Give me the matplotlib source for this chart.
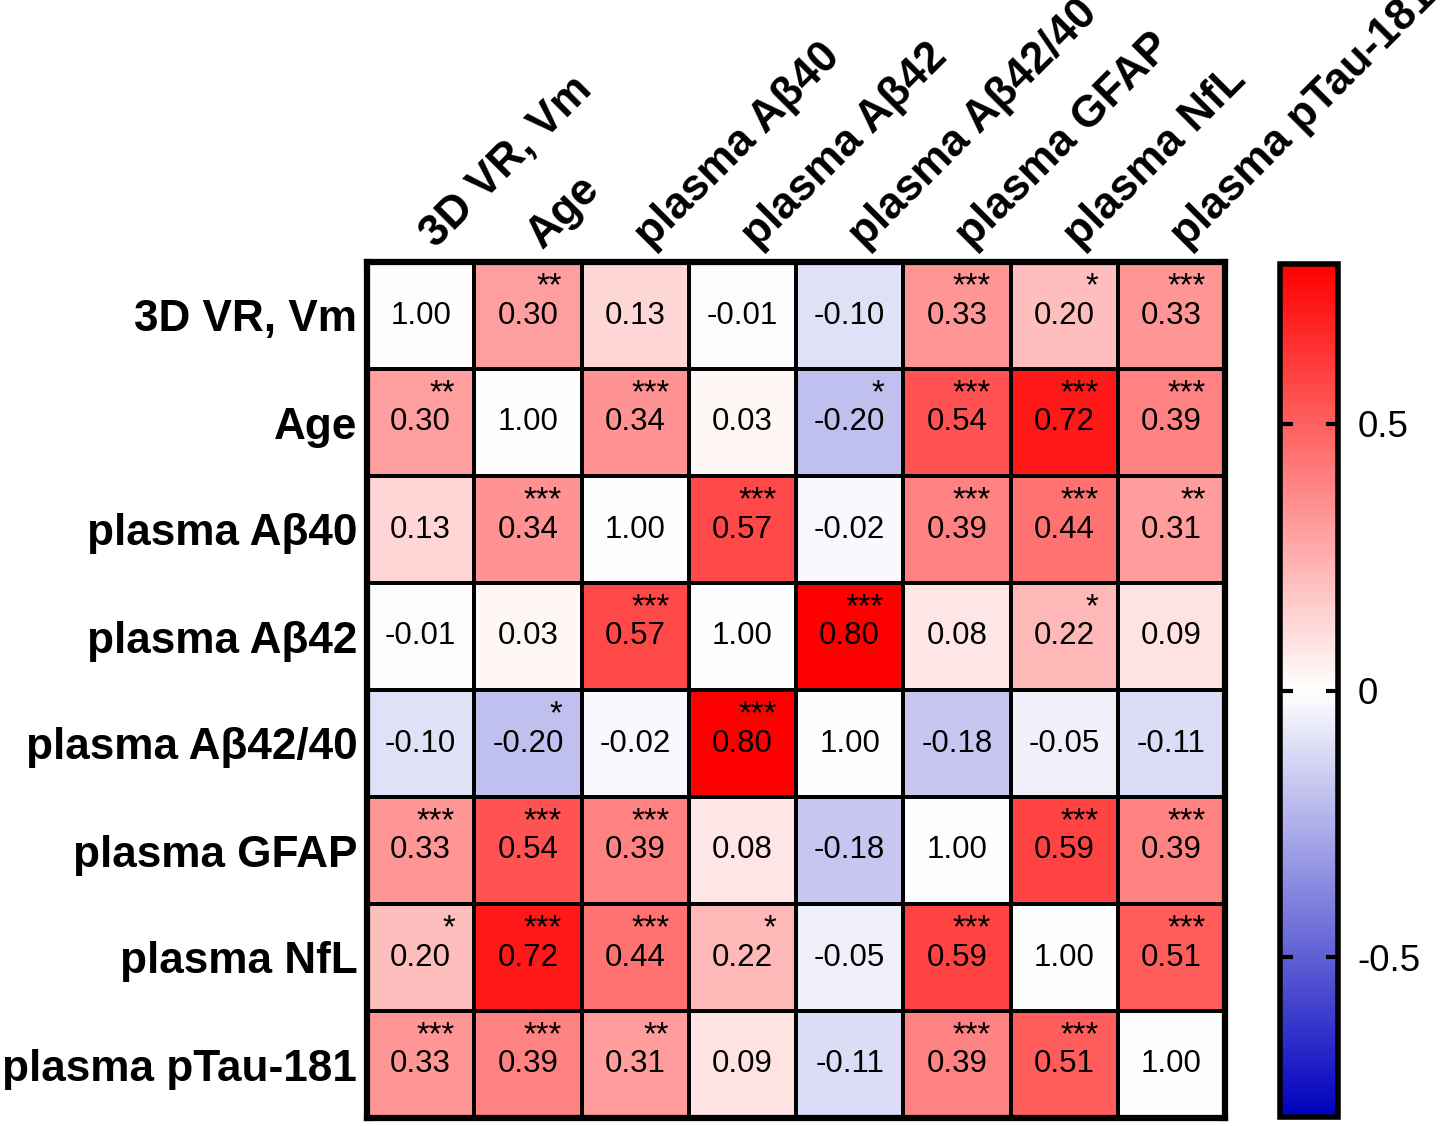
import numpy as np
import matplotlib.pyplot as plt
from matplotlib.colors import LinearSegmentedColormap

plt.rcParams['font.family'] = ['Liberation Sans', 'DejaVu Sans']
plt.rcParams['axes.unicode_minus'] = False

# variable names (rows top to bottom, columns left to right)
labels = ['3D VR, Vm', 'Age', 'plasma A\u03b240', 'plasma A\u03b242',
          'plasma A\u03b242/40', 'plasma GFAP', 'plasma NfL', 'plasma pTau-181']

# correlation coefficients
r_values = [
    [1.00, 0.30, 0.13, -0.01, -0.10, 0.33, 0.20, 0.33],
    [0.30, 1.00, 0.34, 0.03, -0.20, 0.54, 0.72, 0.39],
    [0.13, 0.34, 1.00, 0.57, -0.02, 0.39, 0.44, 0.31],
    [-0.01, 0.03, 0.57, 1.00, 0.80, 0.08, 0.22, 0.09],
    [-0.10, -0.20, -0.02, 0.80, 1.00, -0.18, -0.05, -0.11],
    [0.33, 0.54, 0.39, 0.08, -0.18, 1.00, 0.59, 0.39],
    [0.20, 0.72, 0.44, 0.22, -0.05, 0.59, 1.00, 0.51],
    [0.33, 0.39, 0.31, 0.09, -0.11, 0.39, 0.51, 1.00],
]

# significance marks
stars = [
    ['', '**', '', '', '', '***', '*', '***'],
    ['**', '', '***', '', '*', '***', '***', '***'],
    ['', '***', '', '***', '', '***', '***', '**'],
    ['', '', '***', '', '***', '', '*', ''],
    ['', '*', '', '***', '', '', '', ''],
    ['***', '***', '***', '', '', '', '***', '***'],
    ['*', '***', '***', '*', '', '***', '', '***'],
    ['***', '***', '**', '', '', '***', '***', ''],
]

cbar_ticks = [-0.5, 0, 0.5]
cbar_ticklabels = ['-0.5', '0', '0.5']

n = len(labels)
r = np.array(r_values)
# diagonal drawn white
shown = np.where(np.eye(n, dtype=bool), 0.0, r)

cmap = LinearSegmentedColormap.from_list('bwr_custom', ['#0000BE', '#FFFFFF', '#FF0000'])

W, H = 1441, 1126
fig = plt.figure(figsize=(W / 100, H / 100), dpi=100)
ax = fig.add_axes([367 / W, 8 / H, 858 / W, 856 / H])

mesh = ax.pcolormesh(shown, cmap=cmap, vmin=-0.8, vmax=0.8,
                     edgecolors='black', linewidth=1.5)
ax.set_xlim(0, n)
ax.set_ylim(n, 0)

for i in range(n):
    for j in range(n):
        ax.text(j + 0.5, i + 0.5, f'{r[i, j]:.2f}', ha='center', va='center',
                fontsize=22.5)
        if stars[i][j]:
            ax.text(j + 0.82, i + 0.085, stars[i][j], ha='right', va='top',
                    fontsize=23.5)

ax.set_xticks([])
ax.set_yticks(np.arange(n) + 0.5)
ax.set_yticklabels(labels, fontsize=31.8, fontweight='bold')
ax.tick_params(axis='y', length=0, pad=7)

for j, lab in enumerate(labels):
    ax.text(j + 0.64, -0.12, lab, rotation=45, rotation_mode='anchor',
            ha='left', va='baseline', fontsize=31.8, fontweight='bold',
            clip_on=False)

for sp in ax.spines.values():
    sp.set_linewidth(4.5)

cax = fig.add_axes([1280 / W, 9 / H, 58 / W, 853 / H])
cb = fig.colorbar(mesh, cax=cax, ticks=cbar_ticks)
cb.set_ticklabels(cbar_ticklabels)
cb.outline.set_linewidth(4)
cax.tick_params(direction='in', length=9, width=3, left=True, right=True,
                labelsize=26.5, pad=14)

fig.savefig('out.png', dpi=100)
